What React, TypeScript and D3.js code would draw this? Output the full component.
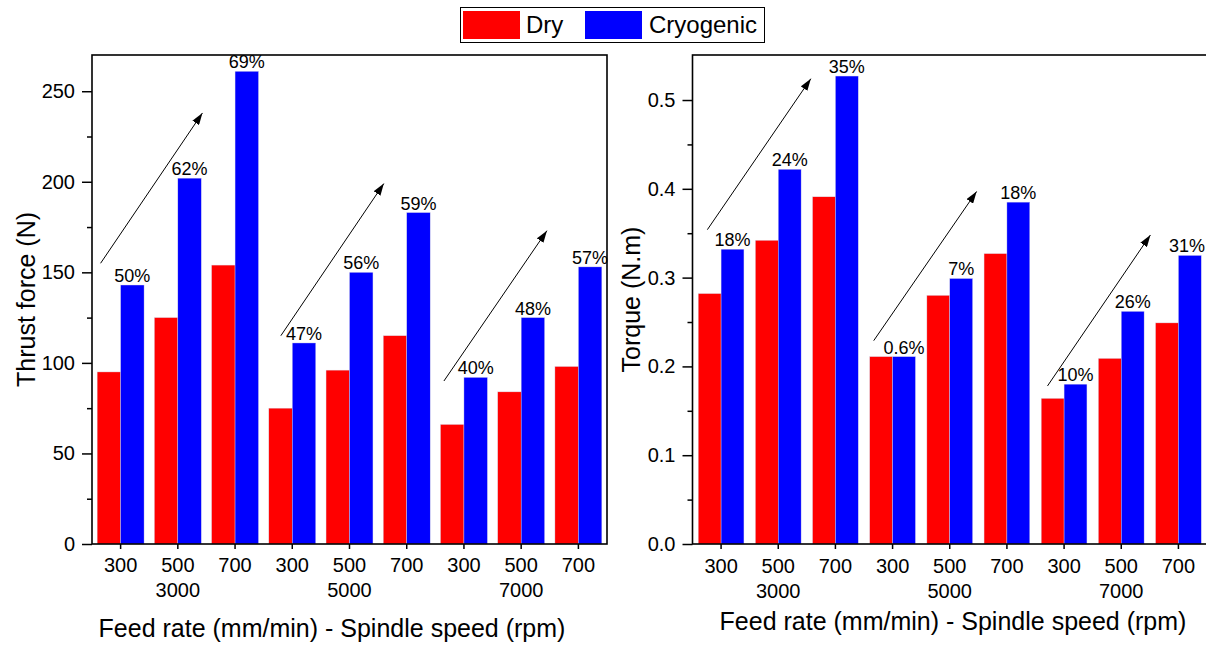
import React, { useEffect, useRef } from 'react';
import { select, scaleLinear, scaleBand, axisLeft, axisBottom } from 'd3';

// x categories
const feedRates = ['300', '500', '700', '300', '500', '700', '300', '500', '700'];
const spindleSpeeds = ['3000', '5000', '7000'];
const seriesNames = ['Dry', 'Cryogenic'];
const seriesColors = ['#ff0000', '#0000ff'];

// thrust force (N)
const thrustDry = [95, 125, 154, 75, 96, 115, 66, 84, 98];
const thrustCryo = [143, 202, 261, 111, 150, 183, 92, 125, 153];
const thrustPct = ['50%', '62%', '69%', '47%', '56%', '59%', '40%', '48%', '57%'];
const thrustTicks = [0, 50, 100, 150, 200, 250];
const thrustMinor = [25, 75, 125, 175, 225];

// torque (N.m)
const torqueDry = [0.282, 0.342, 0.391, 0.211, 0.28, 0.327, 0.164, 0.209, 0.249];
const torqueCryo = [0.332, 0.422, 0.527, 0.211, 0.299, 0.385, 0.18, 0.262, 0.325];
const torquePct = ['18%', '24%', '35%', '0.6%', '7%', '18%', '10%', '26%', '31%'];
const torqueTicks = [0, 0.1, 0.2, 0.3, 0.4, 0.5];
const torqueMinor = [0.05, 0.15, 0.25, 0.35, 0.45];

// trend arrows, x in category units, y in data units
const thrustArrows = [
  [0.15, 155, 1.93, 238],
  [3.3, 115, 5.1, 199],
  [6.15, 90, 7.95, 173],
];
const torqueArrows = [
  [0.26, 0.354, 2.07, 0.524],
  [3.17, 0.229, 4.97, 0.397],
  [6.21, 0.178, 8.01, 0.348],
];

const FONT = '"Liberation Sans", Arial, sans-serif';
const W = 1206;
const H = 645;

type Panel = {
  left: number;
  right: number;
  dry: number[];
  cryo: number[];
  pct: string[];
  ticks: number[];
  minor: number[];
  yMax: number;
  fmt: (d: number) => string;
  arrows: number[][];
  title: string;
  titleX: number;
  pad: number;
  tickY: number;
  speedY: number;
  xTitleX: number;
  xTitleY: number;
};

const top = 55;
const bottom = 544;

function drawPanel(svg: any, p: Panel) {
  const y = scaleLinear().domain([0, p.yMax]).range([bottom, top]);
  const x = scaleBand<string>()
    .domain(feedRates.map((_, i) => String(i)))
    .range([p.left, p.right])
    .paddingInner(p.pad)
    .paddingOuter(p.pad / 2);
  const sub = scaleBand<string>().domain(['0', '1']).range([0, x.bandwidth()]);
  const xi = scaleLinear().domain([0, 9]).range([p.left, p.right]);

  const g = svg.append('g');

  // bars
  [p.dry, p.cryo].forEach((vals, s) => {
    g.selectAll('.bar' + s)
      .data(vals)
      .enter()
      .append('rect')
      .attr('x', (_: number, i: number) => (x(String(i)) as number) + (sub(String(s)) as number))
      .attr('y', (d: number) => y(d))
      .attr('width', sub.bandwidth())
      .attr('height', (d: number) => bottom - y(d))
      .attr('fill', seriesColors[s])
      .attr('stroke', '#d8d8e8')
      .attr('stroke-width', 0.4);
  });

  // percent labels (kept inside the picture at the right edge)
  g.selectAll('.pct')
    .data(p.cryo)
    .enter()
    .append('text')
    .attr('x', (_: number, i: number) =>
      Math.min((x(String(i)) as number) + (sub('1') as number) + sub.bandwidth() / 2, W - 19))
    .attr('y', (d: number) => y(d) - 3)
    .attr('text-anchor', 'middle')
    .attr('font-size', 18)
    .attr('font-family', FONT)
    .text((_: number, i: number) => p.pct[i]);

  // arrows
  g.selectAll('.arrow')
    .data(p.arrows)
    .enter()
    .append('line')
    .attr('x1', (d: number[]) => xi(d[0]))
    .attr('y1', (d: number[]) => y(d[1]))
    .attr('x2', (d: number[]) => xi(d[2]))
    .attr('y2', (d: number[]) => y(d[3]))
    .attr('stroke', '#000')
    .attr('stroke-width', 1)
    .attr('marker-end', 'url(#arrowhead)');

  // y axis
  const ya = g.append('g')
    .attr('transform', `translate(${p.left},0)`)
    .call(axisLeft(y).tickValues(p.ticks).tickFormat(p.fmt as any).tickSize(10).tickSizeOuter(0).tickPadding(7));
  ya.select('.domain').remove();
  ya.selectAll('text').attr('font-size', 20).attr('font-family', FONT).attr('fill', '#000');
  ya.selectAll('line').attr('stroke-width', 1.5);
  const ym = g.append('g')
    .attr('transform', `translate(${p.left},0)`)
    .call(axisLeft(y).tickValues(p.minor).tickFormat(() => '').tickSize(5).tickSizeOuter(0));
  ym.select('.domain').remove();
  ym.selectAll('line').attr('stroke-width', 1.5);

  // x axis
  const xa = g.append('g')
    .attr('transform', `translate(0,${bottom})`)
    .call(axisBottom(x).tickFormat((d: string) => feedRates[+d]).tickSize(5).tickSizeOuter(0).tickPadding(8));
  xa.select('.domain').remove();
  xa.selectAll('line').attr('stroke-width', 1.5);
  xa.selectAll('text')
    .attr('font-size', 20)
    .attr('font-family', FONT)
    .attr('fill', '#000')
    .attr('dy', null)
    .attr('y', p.tickY - bottom);

  // spindle speed labels
  g.selectAll('.speed')
    .data(spindleSpeeds)
    .enter()
    .append('text')
    .attr('x', (_: string, k: number) => (x(String(k * 3 + 1)) as number) + x.bandwidth() / 2)
    .attr('y', p.speedY)
    .attr('text-anchor', 'middle')
    .attr('font-size', 20)
    .attr('font-family', FONT)
    .text((d: string) => d);

  // frame
  g.append('rect')
    .attr('x', p.left)
    .attr('y', top)
    .attr('width', p.right - p.left)
    .attr('height', bottom - top)
    .attr('fill', 'none')
    .attr('stroke', '#000')
    .attr('stroke-width', 1.6);

  // titles
  g.append('text')
    .attr('transform', `translate(${p.titleX},${(top + bottom) / 2}) rotate(-90)`)
    .attr('text-anchor', 'middle')
    .attr('font-size', 25)
    .attr('font-family', FONT)
    .text(p.title);
  g.append('text')
    .attr('x', p.xTitleX)
    .attr('y', p.xTitleY)
    .attr('text-anchor', 'middle')
    .attr('font-size', 25)
    .attr('font-family', FONT)
    .text('Feed rate (mm/min) - Spindle speed (rpm)');
}

export default function App() {
  const ref = useRef<SVGSVGElement>(null);

  useEffect(() => {
    const svg = select(ref.current);
    svg.selectAll('*').remove();

    svg.append('defs')
      .append('marker')
      .attr('id', 'arrowhead')
      .attr('viewBox', '0 0 12 8')
      .attr('refX', 12)
      .attr('refY', 4)
      .attr('markerWidth', 12)
      .attr('markerHeight', 8)
      .attr('markerUnits', 'userSpaceOnUse')
      .attr('orient', 'auto')
      .append('path')
      .attr('d', 'M0,0 L12,4 L0,8 Z')
      .attr('fill', '#000');

    svg.append('rect').attr('width', W).attr('height', H).attr('fill', '#fff');

    drawPanel(svg, {
      left: 92, right: 607,
      dry: thrustDry, cryo: thrustCryo, pct: thrustPct,
      ticks: thrustTicks, minor: thrustMinor, yMax: 270,
      fmt: d => String(d),
      arrows: thrustArrows,
      title: 'Thrust force (N)', titleX: 35, pad: 0.18,
      tickY: 572, speedY: 597, xTitleX: 332, xTitleY: 637,
    });
    drawPanel(svg, {
      left: 692.5, right: 1207,
      dry: torqueDry, cryo: torqueCryo, pct: torquePct,
      ticks: torqueTicks, minor: torqueMinor, yMax: 0.5507,
      fmt: d => d.toFixed(1),
      arrows: torqueArrows,
      title: 'Torque (N.m)', titleX: 640, pad: 0.2,
      tickY: 573, speedY: 598, xTitleX: 953, xTitleY: 630,
    });

    // legend
    const lg = svg.append('g');
    lg.append('rect')
      .attr('x', 460.5).attr('y', 7.5).attr('width', 304).attr('height', 35)
      .attr('fill', '#fff').attr('stroke', '#000').attr('stroke-width', 1);
    const items = [
      { x: 463, tx: 526 },
      { x: 585, tx: 649 },
    ];
    seriesNames.forEach((name, i) => {
      lg.append('rect')
        .attr('x', items[i].x).attr('y', 11).attr('width', 57).attr('height', 28)
        .attr('fill', seriesColors[i]);
      lg.append('text')
        .attr('x', items[i].tx).attr('y', 33)
        .attr('font-size', 24)
        .attr('font-family', FONT)
        .text(name);
    });
  }, []);

  return (
    <svg
      ref={ref}
      width={W}
      height={H}
      style={{ position: 'absolute', left: 0, top: 0, display: 'block' }}
    />
  );
}
